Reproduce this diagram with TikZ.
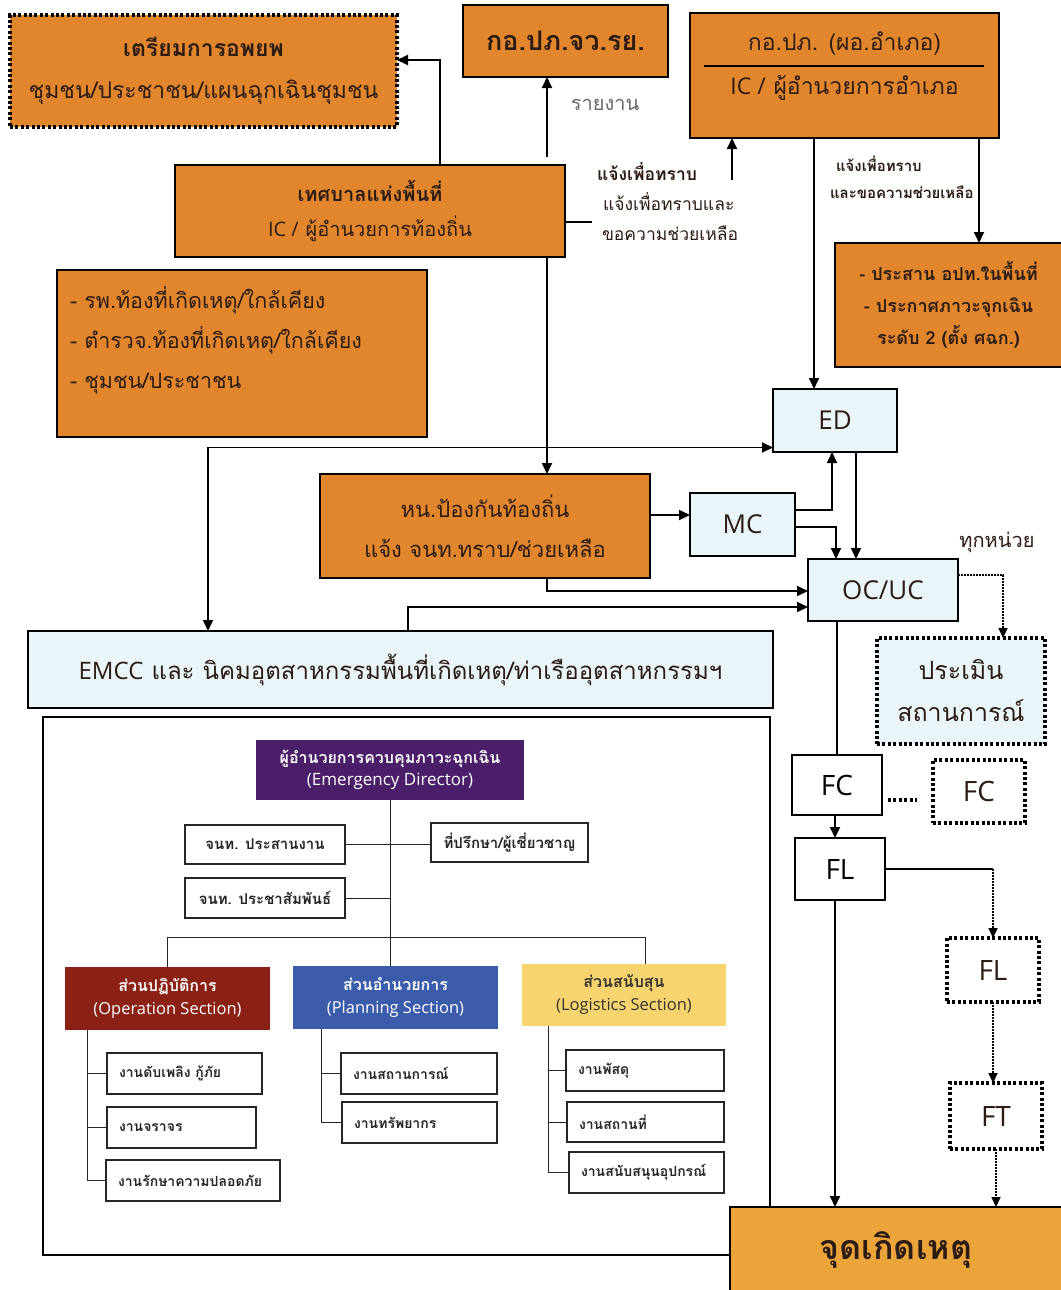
\documentclass[tikz,border=0pt]{standalone}
\usepackage{fontspec}
\usetikzlibrary{arrows.meta}
\setmainfont{Loma}[Script=Thai]
\newfontfamily\lat{Open Sans}

\definecolor{boxorange}{RGB}{226,134,46}
\definecolor{paleblue}{RGB}{233,245,249}
\definecolor{sitegold}{RGB}{234,164,58}
\definecolor{edpurple}{RGB}{74,30,104}
\definecolor{opsred}{RGB}{139,32,20}
\definecolor{planblue}{RGB}{58,92,170}
\definecolor{logyellow}{RGB}{247,212,110}
\definecolor{inkdark}{RGB}{45,28,20}
\definecolor{notegray}{RGB}{105,105,105}

\newcommand{\fs}[2]{\fontsize{#1}{#2}\selectfont}

\begin{document}
\begin{tikzpicture}[x=1pt,y=-1pt,
  every node/.style={inner sep=0pt, outer sep=0pt},
  orangebox/.style={draw=black, line width=1.8pt, fill=boxorange, text=inkdark, align=center},
  bluebox/.style={draw=black, line width=1.6pt, fill=paleblue, text=inkdark, align=center},
  dotbox/.style={draw=black, line width=3.4pt, dash pattern=on 3pt off 2.4pt, align=center, text=inkdark},
  orgbox/.style={draw=black!85, line width=1.1pt, fill=white, text=black!85, align=left, inner xsep=12pt},
  wire/.style={line width=1.8pt, -{Triangle[length=11pt,width=10pt]}},
  plainwire/.style={line width=1.8pt},
  dotwire/.style={line width=1.6pt, dash pattern=on 1.6pt off 1.4pt, -{Triangle[length=10pt,width=9pt]}},
  orgline/.style={line width=1pt, draw=black!85},
  note/.style={text=inkdark}
]
\useasboundingbox (0,0) rectangle (1060,1290);
\fill[white] (0,0) rectangle (1060,1290);

% ---------- upper level: agencies ----------
\node[dotbox, fill=boxorange, minimum width=387, minimum height=112, font=\fs{23}{42}] (prep) at (203.5,71)
  {\textbf{เตรียมการอพยพ}\\ชุมชน/ประชาชน/แผนฉุกเฉินชุมชน};
\node[orangebox, minimum width=205, minimum height=72, font=\fs{27}{32}\bfseries] (jv) at (565.5,41) {กอ.ปภ.จว.รย.};
\node[orangebox, minimum width=309, minimum height=125] (amp) at (844.5,75.5) {};
\node[text=inkdark, font=\fs{23}{28}] (ampTop) at (844.5,44) {กอ.ปภ. (ผอ.อำเภอ)};
\node[text=inkdark, font=\fs{23}{28}] (ampBot) at (844.5,88) {{\lat IC /} ผู้อำนวยการอำเภอ};
\draw[line width=1.8pt] ([xshift=14,yshift=9.5]amp.west) -- ([xshift=-15,yshift=9.5]amp.east);

\node[orangebox, minimum width=390, minimum height=92, font=\fs{20}{35}] (teth) at (370,211)
  {\textbf{เทศบาลแห่งพื้นที่}\\{\lat IC /} ผู้อำนวยการท้องถิ่น};
\node[orangebox, minimum width=370, minimum height=167] (list) at (242,353.5) {};
\node[text=inkdark, anchor=west, align=left, font=\fs{21.5}{40}] (listText) at (70,340)
  {- รพ.ท้องที่เกิดเหตุ/ใกล้เคียง\\- ตำรวจ.ท้องที่เกิดเหตุ/ใกล้เคียง\\- ชุมชน/ประชาชน};
\node[orangebox, minimum width=227, minimum height=124, font=\fs{18}{32}\bfseries] (coord) at (948.5,305)
  {- ประสาน อปท.ในพื้นที่\\- ประกาศภาวะจุกเฉิน\\ระดับ 2 (ตั้ง ศฉก.)};

% labels beside the connectors
\node[text=notegray, font=\fs{20}{24}] (lblReport) at (605,105) {รายงาน};
\node[note, anchor=west, align=left, font=\fs{17.5}{30}] (lblNotify) at (597,202)
  {\textbf{แจ้งเพื่อทราบ}\\\hspace{6pt}แจ้งเพื่อทราบและ\\\hspace{5pt}ขอความช่วยเหลือ};
\node[note, anchor=west, align=left, font=\fs{15}{27}\bfseries] (lblAsk) at (830,177)
  {\hspace{6pt}แจ้งเพื่อทราบ\\และขอความช่วยเหลือ};
\node[note, font=\fs{20}{24}] (lblAll) at (997,542) {ทุกหน่วย};

% ---------- command level ----------
\node[bluebox, minimum width=124, minimum height=63, font=\lat\fs{26}{30}] (ed) at (835,420.5) {ED};
\node[orangebox, minimum width=330, minimum height=104, font=\fs{22}{40}] (loc) at (485,526)
  {หน.ป้องกันท้องถิ่น\\แจ้ง จนท.ทราบ/ช่วยเหลือ};
\node[bluebox, minimum width=105, minimum height=63, font=\lat\fs{26}{30}] (mc) at (742.5,524.5) {MC};
\node[bluebox, minimum width=150, minimum height=62, font=\lat\fs{26}{30}] (ocuc) at (883,590) {OC/UC};
\node[bluebox, minimum width=745, minimum height=77, font=\fs{24}{30}] (emcc) at (400.5,669.5)
  {{\lat EMCC} และ นิคมอุตสาหกรรมพื้นที่เกิดเหตุ/ท่าเรืออุตสาหกรรมฯ};
\node[dotbox, fill=paleblue, minimum width=168, minimum height=106, font=\fs{25}{42}] (assess) at (961,691)
  {ประเมิน\\สถานการณ์};

% ---------- field level ----------
\node[draw=black, line width=1.6pt, fill=white, minimum width=727, minimum height=538] (frame) at (406.5,986) {};
\node[draw=black, line width=1.6pt, fill=white, minimum width=90, minimum height=60, font=\lat\fs{28}{32}] (fc) at (837,785) {FC};
\node[dotbox, fill=white, minimum width=92, minimum height=63, font=\lat\fs{28}{32}] (fc2) at (979,791.5) {FC};
\node[draw=black, line width=1.6pt, fill=white, minimum width=90, minimum height=62, font=\lat\fs{28}{32}] (fl) at (840,869) {FL};
\node[dotbox, fill=white, minimum width=92, minimum height=64, font=\lat\fs{28}{32}] (fl2) at (993,970) {FL};
\node[dotbox, fill=white, minimum width=92, minimum height=66, font=\lat\fs{28}{32}] (ft) at (996,1116) {FT};
\node[draw=black, line width=1.6pt, fill=sitegold, text=inkdark, minimum width=332, minimum height=85, font=\fs{34}{40}\bfseries] (site) at (896,1249.5) {จุดเกิดเหตุ};

% ---------- connectors ----------
\draw[wire] ([xshift=70]teth.north) |- ([yshift=11]prep.east);
\draw[wire] ([xshift=177,yshift=8]teth.north) -- ([xshift=-18.5]jv.south);
\coordinate (stubEnd) at (592,222);
\draw[plainwire] ([yshift=-11]teth.east) -- (stubEnd);
\coordinate (askTail) at (732,180);
\draw[wire] (askTail) -- (askTail |- amp.south);
\draw[wire] ([xshift=177]teth.south) -- ([xshift=62]loc.north);
\draw[wire] ([xshift=-30.5]amp.south) -- ([xshift=-21]ed.north);
\draw[wire] ([xshift=134.5]amp.south) -- ([xshift=30.5]coord.north);
\draw[wire, {Triangle[length=11pt,width=10pt]}-{Triangle[length=11pt,width=10pt]}]
  ([xshift=-192.5]emcc.north) |- ([yshift=-27]ed.west);
\draw[wire] ([yshift=11]loc.east) -- ([yshift=9.5]mc.west);
\draw[wire] ([yshift=14.5]mc.east) -| ([xshift=-3]ed.south);
\draw[wire] ([yshift=-2.5]mc.east) -| ([xshift=-47]ocuc.north);
\draw[wire] ([xshift=21]ed.south) -- ([xshift=-27]ocuc.north);
\draw[wire] ([xshift=62]loc.south) |- ([yshift=-1]ocuc.west);
\draw[wire] ([xshift=7.5]emcc.north) |- ([yshift=-17]ocuc.west);
\draw[dotwire] ([yshift=15]ocuc.east) -| ([xshift=42]assess.north);
\draw[plainwire] (fc.north |- ocuc.south) -- (fc.north);
\draw[line width=3.4pt, dash pattern=on 3pt off 2.4pt] ([xshift=6,yshift=-15]fc.east) -- ([xshift=-16,yshift=-8.5]fc2.west);
\draw[wire] ([xshift=-2]fc.south) -- ([xshift=-5]fl.north);
\draw[wire] ([xshift=-5]fl.south) -- ([xshift=-61]site.north);
\draw[line width=1.4pt] (fl.east) -- (fl.east -| fl2.north);
\draw[dotwire] (fl.east -| fl2.north) -- (fl2.north);
\draw[dotwire] (fl2.south) -- (fl2.south |- ft.north);
\draw[dotwire] (ft.south) -- (ft.south |- site.north);

% ---------- organisation chart ----------
\node[fill=edpurple, text=white, align=center, minimum width=268, minimum height=60, font=\fs{16}{22}] (dir) at (390,770)
  {\textbf{ผู้อำนวยการควบคุมภาวะฉุกเฉิน}\\{\lat\fs{17}{22}(Emergency Director)}};
\node[orgbox, minimum width=160, minimum height=39, align=center, inner xsep=0pt, font=\fs{15}{18}\bfseries] (cs) at (265,844.5) {จนท. ประสานงาน};
\node[orgbox, minimum width=157, minimum height=39, align=center, inner xsep=0pt, font=\fs{15}{18}\bfseries] (adv) at (509.5,842.5) {ที่ปรึกษา/ผู้เชี่ยวชาญ};
\node[orgbox, minimum width=160, minimum height=40, align=center, inner xsep=0pt, font=\fs{15}{18}\bfseries] (pr) at (265,898) {จนท. ประชาสัมพันธ์};

\node[fill=opsred, text=white, align=center, minimum width=205, minimum height=63, font=\fs{16}{23}] (ops) at (167.5,998.5)
  {\textbf{ส่วนปฏิบัติการ}\\{\lat\fs{16.5}{23}(Operation Section)}};
\node[fill=planblue, text=white, align=center, minimum width=205, minimum height=63, font=\fs{16}{23}] (plan) at (395.5,997.5)
  {\textbf{ส่วนอำนวยการ}\\{\lat\fs{16.5}{23}(Planning Section)}};
\node[fill=logyellow, text=black!80, align=center, minimum width=204, minimum height=62, font=\fs{16}{23}] (logi) at (624,995)
  {\textbf{ส่วนสนับสุน}\\{\lat\fs{16.5}{23}(Logistics Section)}};

\node[orgbox, minimum width=155, minimum height=41, text width=131, font=\fs{14}{18}\bfseries] (o1) at (184.5,1073.5) {งานดับเพลิง กู้ภัย};
\node[orgbox, minimum width=149, minimum height=41, text width=125, font=\fs{14}{18}\bfseries] (o2) at (181.5,1127.5) {งานจราจร};
\node[orgbox, minimum width=174, minimum height=41, text width=150, font=\fs{14}{18}\bfseries] (o3) at (193,1180.5) {งานรักษาความปลอดภัย};
\node[orgbox, minimum width=156, minimum height=41, text width=132, font=\fs{14}{18}\bfseries] (p1) at (419,1073.5) {งานสถานการณ์};
\node[orgbox, minimum width=155, minimum height=41, text width=131, font=\fs{14}{18}\bfseries] (p2) at (419.5,1122.5) {งานทรัพยากร};
\node[orgbox, minimum width=158, minimum height=41, text width=134, font=\fs{14}{18}\bfseries] (l1) at (645,1070.5) {งานพัสดุ};
\node[orgbox, minimum width=157, minimum height=40, text width=133, font=\fs{14}{18}\bfseries] (l2) at (645.5,1122) {งานสถานที่};
\node[orgbox, minimum width=155, minimum height=41, text width=131, font=\fs{14}{18}\bfseries] (l3) at (646.5,1172.5) {งานสนับสนุนอุปกรณ์};

\draw[orgline] (dir.south) -- (dir.south |- plan.north);
\draw[orgline] (cs.east) -- (cs.east -| adv.west);
\draw[orgline] (pr.east) -- (pr.east -| dir.south);
\coordinate (secBus) at (0,937);
\coordinate (logTop) at (645,0);
\draw[orgline] (ops.north) -- (ops.north |- secBus) -- (logTop |- secBus) -- (logTop |- logi.north);
\coordinate (opsBus) at (87,0);
\coordinate (planBus) at (321,0);
\coordinate (logBus) at (548,0);
\draw[orgline] (opsBus |- ops.south) -- (opsBus |- o3.west) -- (o3.west);
\draw[orgline] (opsBus |- o1.west) -- (o1.west);
\draw[orgline] (opsBus |- o2.west) -- (o2.west);
\draw[orgline] (planBus |- plan.south) -- (planBus |- p2.west) -- (p2.west);
\draw[orgline] (planBus |- p1.west) -- (p1.west);
\draw[orgline] (logBus |- logi.south) -- (logBus |- l3.west) -- (l3.west);
\draw[orgline] (logBus |- l1.west) -- (l1.west);
\draw[orgline] (logBus |- l2.west) -- (l2.west);
\end{tikzpicture}
\end{document}
